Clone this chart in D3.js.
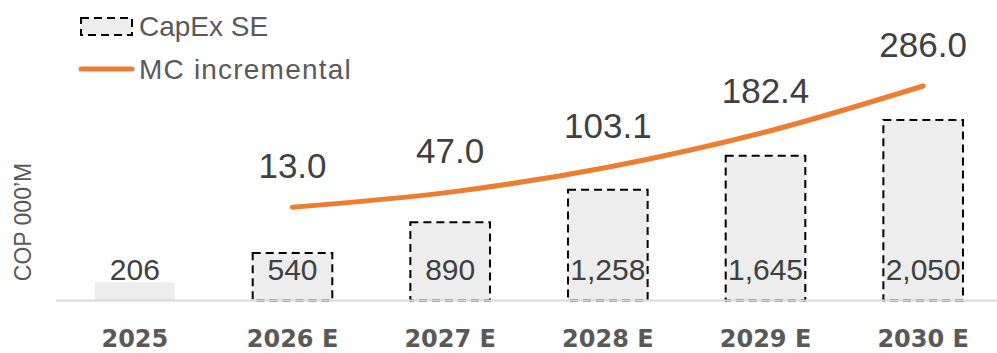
<!DOCTYPE html>
<html><head><meta charset="utf-8">
<script src="https://cdn.jsdelivr.net/npm/d3@7"></script>
<style>html,body{margin:0;padding:0;background:#fff;}svg{display:block;font-family:"Liberation Sans",Arial,sans-serif;}</style>
</head><body><svg id="c" width="997" height="353"></svg>
<script>
const categories = ["2025","2026 E","2027 E","2028 E","2029 E","2030 E"];
const capex = [206,540,890,1258,1645,2050];
const capexLabels = ["206","540","890","1,258","1,645","2,050"];
const mcCats = ["2026 E","2027 E","2028 E","2029 E","2030 E"];
const mc = [13.0,47.0,103.1,182.4,286.0];
const seriesNames = ["CapEx SE","MC incremental"];
const yTitle = "COP 000\u2019M";

const svg = d3.select("#c");
const x = d3.scaleBand().domain(categories).range([56,1002]).paddingInner(0.495).paddingOuter(0.2475);
const base = 300.5;
const y = d3.scaleLinear().domain([0,2050]).range([base,120]);
const y2 = d3.scaleLinear().domain([0,286]).range([213,86]);
const cx = c => x(c)+x.bandwidth()/2;

// bars
const bars = svg.append("g");
bars.selectAll("rect.fill").data(categories).join("rect")
  .attr("x",d=>x(d)).attr("width",x.bandwidth())
  .attr("y",(d,i)=>y(capex[i])).attr("height",(d,i)=>base-y(capex[i]))
  .attr("fill","#ededed");
bars.selectAll("rect.border").data(categories.slice(1)).join("rect")
  .attr("x",d=>x(d)).attr("width",x.bandwidth())
  .attr("y",(d,i)=>y(capex[i+1])).attr("height",(d,i)=>base-y(capex[i+1]))
  .attr("fill","none").attr("stroke","#000").attr("stroke-width",2).attr("stroke-dasharray","8,5");

// axis line
const xAxis = d3.axisBottom(x).tickSize(0).tickPadding(0);
const gx = svg.append("g").attr("transform",`translate(0,${base})`).call(xAxis);
gx.select(".domain").attr("stroke","#d9d9d9").attr("stroke-width",2).attr("d","M56,0H997");
gx.selectAll("text").attr("dy",null).attr("y",46).attr("font-size",24).attr("font-weight","bold")
  .attr("fill","#595959").attr("font-family","'DejaVu Sans',sans-serif");

// bar labels
svg.append("g").selectAll("text").data(categories).join("text")
  .attr("x",d=>cx(d)).attr("y",280).attr("text-anchor","middle")
  .attr("font-size",30).attr("fill","#404040").text((d,i)=>capexLabels[i]);

// line
const line = d3.line().x((d,i)=>cx(mcCats[i])).y(d=>y2(d)).curve(d3.curveMonotoneX);
svg.append("path").datum(mc).attr("d",line).attr("fill","none")
  .attr("stroke","#ed7d31").attr("stroke-width",5).attr("stroke-linecap","round");
svg.append("g").selectAll("text").data(mc).join("text")
  .attr("x",(d,i)=>cx(mcCats[i])).attr("y",d=>y2(d)-29).attr("text-anchor","middle")
  .attr("font-size",35).attr("fill","#404040").text(d=>d.toFixed(1));

// y title
svg.append("text").attr("transform","translate(31,222) rotate(-90)").attr("text-anchor","middle")
  .attr("font-size",23).attr("fill","#595959").text(yTitle);

// legend
const lg = svg.append("g");
lg.append("rect").attr("x",81).attr("y",18).attr("width",51).attr("height",17)
  .attr("fill","#ededed").attr("stroke","#000").attr("stroke-width",2).attr("stroke-dasharray","8,5");
lg.append("text").attr("x",139).attr("y",36).attr("font-size",28).attr("fill","#595959").text(seriesNames[0]);
lg.append("line").attr("x1",81).attr("x2",132).attr("y1",69).attr("y2",69)
  .attr("stroke","#ed7d31").attr("stroke-width",5).attr("stroke-linecap","round");
lg.append("text").attr("x",139).attr("y",79).attr("font-size",28).attr("letter-spacing",1.2)
  .attr("fill","#595959").text(seriesNames[1]);
</script></body></html>
